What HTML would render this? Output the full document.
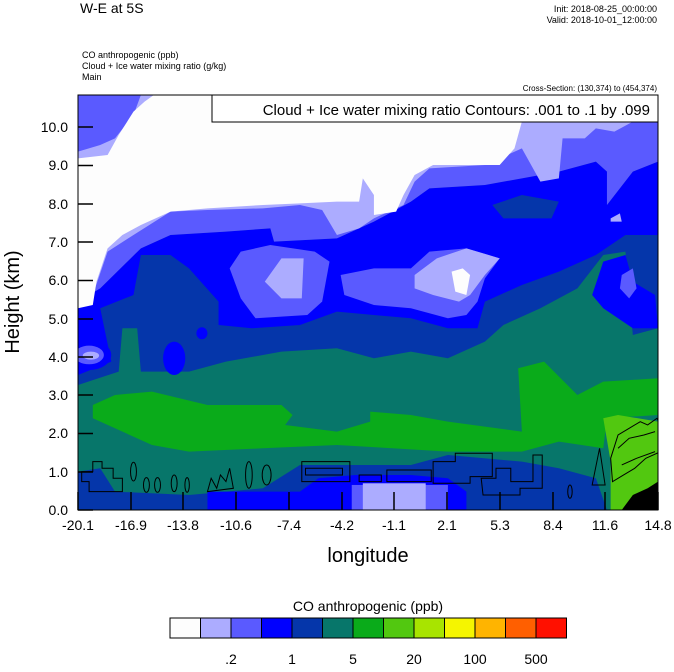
<!DOCTYPE html>
<html><head><meta charset="utf-8"><style>
body{margin:0;background:#fff;width:674px;height:667px;overflow:hidden}
text{font-family:"Liberation Sans",sans-serif}
</style></head><body>
<svg width="674" height="667" viewBox="0 0 674 667" xmlns="http://www.w3.org/2000/svg">
<text x="80" y="13" font-size="14">W-E at 5S</text>
<text x="657" y="12" font-size="9" text-anchor="end">Init: 2018-08-25_00:00:00</text>
<text x="657" y="23" font-size="9" text-anchor="end">Valid: 2018-10-01_12:00:00</text>
<text x="82" y="58" font-size="9">CO anthropogenic   (ppb)</text>
<text x="82" y="69" font-size="9">Cloud + Ice water mixing ratio   (g/kg)</text>
<text x="82" y="80" font-size="9">Main</text>
<text x="657" y="91" font-size="8" text-anchor="end">Cross-Section: (130,374) to (454,374)</text>
<defs><clipPath id="c"><rect x="0" y="0" width="1568" height="1245"/></clipPath></defs>
<g transform="translate(78,95) scale(0.3699,0.3333)" clip-path="url(#c)">
<rect x="0" y="0" width="1568" height="1245" fill="#07766a"/>
<polygon fill="#0536aa" points="0,0 1568,0 1568,700 1500,720 1480,470 1420,480 1350,580 1250,640 1150,690 1100,740 1000,790 900,770 800,790 700,760 550,770 400,800 300,830 170,830 160,700 120,700 110,830 0,870"/>
<polygon fill="#0000ff" points="0,620 60,580 170,460 250,420 400,410 520,400 530,440 700,430 800,380 900,320 950,280 1100,270 1200,250 1300,230 1400,200 1430,230 1430,330 1500,230 1568,200 1568,420 1480,420 1400,480 1300,530 1200,570 1100,620 1080,700 1000,700 900,670 700,650 600,690 470,700 380,690 380,620 300,520 250,480 170,480 150,600 60,640 90,800 0,840"/>
<polygon fill="#0000ff" points="1420,500 1480,480 1500,560 1560,600 1568,700 1500,700 1420,640 1390,600"/>
<ellipse cx="260" cy="790" rx="30" ry="50" fill="#0000ff"/>
<ellipse cx="335" cy="715" rx="15" ry="18" fill="#0000ff"/>
<polygon fill="#0536aa" points="1120,330 1200,300 1300,320 1280,370 1150,370"/>
<polygon fill="#5a5aff" points="0,0 1568,0 1568,200 1500,230 1430,330 1430,230 1400,200 1300,230 1200,250 1100,270 950,280 900,320 800,380 700,430 530,440 520,400 400,410 250,420 170,460 60,580 0,620"/>
<polygon fill="#5a5aff" points="710,540 800,520 900,520 950,470 1050,460 1140,490 1100,550 1080,620 1050,660 1000,670 900,640 800,630 720,600"/>
<polygon fill="#5a5aff" points="410,520 440,470 520,450 640,470 680,500 660,620 620,660 480,670 440,610"/>
<polygon fill="#5a5aff" points="1470,540 1500,520 1510,580 1490,610 1465,580"/>
<ellipse cx="30" cy="780" rx="60" ry="45" fill="#0000ff"/>
<ellipse cx="30" cy="780" rx="40" ry="28" fill="#5a5aff"/>
<ellipse cx="35" cy="782" rx="22" ry="12" fill="#acacff"/>
<polygon fill="#acacff" points="170,0 1568,0 1568,80 1500,80 1450,110 1400,100 1370,130 1310,130 1300,250 1250,260 1200,160 1100,210 950,220 910,260 880,330 800,370 760,400 700,420 660,345 600,330 500,340 350,345 250,350 150,420 80,470 40,600 0,640 0,170 60,150 100,130 150,60"/>
<polygon fill="#fdfdfd" points="205,0 1200,0 1200,80 1180,160 1140,210 960,210 910,240 880,300 860,350 800,360 800,300 770,250 760,320 700,320 600,325 500,330 350,340 250,350 170,390 120,420 80,460 50,560 40,630 0,640 0,190 80,180 110,120 150,50 180,20"/>
<polygon fill="#acacff" points="505,560 550,490 610,490 605,610 550,610"/>
<polygon fill="#acacff" points="910,540 970,490 1050,460 1140,490 1100,540 1060,600 1030,620 960,600 910,580"/>
<polygon fill="#fdfdfd" points="1010,530 1040,520 1060,540 1050,600 1020,590"/>
<polygon fill="#acacff" points="1440,370 1465,355 1470,380 1440,380"/>
<polygon fill="#0aab1a" points="40,930 100,900 200,890 350,930 550,930 580,960 560,990 700,1010 790,980 790,950 900,960 1000,980 1200,1010 1190,820 1260,800 1350,900 1420,860 1568,850 1568,960 1430,970 1420,1060 1300,1040 1200,1070 1000,1070 850,1060 700,1050 500,1060 300,1070 200,1050 100,1000 40,970"/>
<polygon fill="#52c810" points="1420,970 1460,960 1568,980 1568,1245 1440,1245 1440,1100"/>
<polygon fill="#000" points="1470,1245 1500,1200 1540,1180 1568,1160 1568,1245"/>
<polygon fill="#0536aa" points="0,1130 60,1120 100,1190 300,1200 500,1180 600,1110 900,1110 1000,1080 1200,1100 1300,1120 1400,1150 1430,1245 0,1245"/>
<polygon fill="#0000ff" points="350,1190 600,1190 650,1150 750,1140 900,1140 1000,1150 1050,1190 1050,1245 350,1245"/>
<rect x="740" y="1170" width="260" height="75" fill="#5a5aff"/>
<rect x="770" y="1165" width="170" height="80" fill="#acacff"/>
<g fill="none" stroke="#000" stroke-width="1" vector-effect="non-scaling-stroke">
<path vector-effect="non-scaling-stroke" d="M10,1130 h30 v-30 h25 v20 h30 v30 h25 v40 h-90 v-30 h-20z"/>
<ellipse vector-effect="non-scaling-stroke" cx="150" cy="1130" rx="8" ry="28"/>
<ellipse vector-effect="non-scaling-stroke" cx="185" cy="1170" rx="8" ry="22"/>
<ellipse vector-effect="non-scaling-stroke" cx="215" cy="1170" rx="8" ry="22"/>
<ellipse vector-effect="non-scaling-stroke" cx="260" cy="1165" rx="8" ry="25"/>
<ellipse vector-effect="non-scaling-stroke" cx="295" cy="1170" rx="6" ry="22"/>
<path vector-effect="non-scaling-stroke" d="M350,1190 l10,-40 l15,30 l10,-40 l15,20 l10,-40 l10,60 z"/>
<ellipse vector-effect="non-scaling-stroke" cx="462" cy="1140" rx="9" ry="40"/>
<ellipse vector-effect="non-scaling-stroke" cx="510" cy="1140" rx="12" ry="30"/>
<path vector-effect="non-scaling-stroke" d="M605,1100 h130 v60 h-130z M615,1120 h100 v20 h-100z"/>
<path vector-effect="non-scaling-stroke" d="M760,1140 h60 v20 h-60z M835,1125 h120 v35 h-120z"/>
<path vector-effect="non-scaling-stroke" d="M960,1100 h60 v-25 h100 v70 h-60 v20 h-100z"/>
<path vector-effect="non-scaling-stroke" d="M1090,1150 h40 v-30 h40 v40 h60 v-80 h25 v100 h-60 v20 h-100 z"/>
<ellipse vector-effect="non-scaling-stroke" cx="1330" cy="1190" rx="6" ry="20"/>
<path vector-effect="non-scaling-stroke" d="M1390,1170 l20,-110 l15,110 z"/>
<path vector-effect="non-scaling-stroke" d="M1440,1090 l20,-70 l30,-20 l30,-20 l20,10 l25,-20 l10,20 v80 l-40,20 l-30,30 l-30,20 l-30,20 z"/>
<path vector-effect="non-scaling-stroke" d="M1460,1060 l30,-30 l40,-10 l30,-10 M1470,1110 l40,-20 l50,-20"/>
</g>
</g>
<rect x="78" y="95" width="580" height="415" fill="none" stroke="#000" stroke-width="1"/>
<rect x="212" y="95" width="446" height="27" fill="#fff" stroke="#000"/>
<text x="650" y="115" font-size="15" text-anchor="end">Cloud + Ice water mixing ratio Contours: .001 to .1 by .099</text>
<g stroke="#000" stroke-width="1.5">
<path d="M78,510h15M78,472h15M78,433.5h15M78,395h15M78,357h15M78,319h15M78,280.5h15M78,242h15M78,204h15M78,165.5h15M78,127h15"/>
<path d="M78,510v-18M131,510v-18M183,510v-18M236,510v-18M289,510v-18M342,510v-18M394,510v-18M447,510v-18M500,510v-18M553,510v-18M605,510v-18M658,510v-18"/>
</g>
<g font-size="14" text-anchor="end">
<text x="68" y="515">0.0</text><text x="68" y="477">1.0</text><text x="68" y="438">2.0</text><text x="68" y="400">3.0</text><text x="68" y="362">4.0</text><text x="68" y="324">5.0</text><text x="68" y="285">6.0</text><text x="68" y="247">7.0</text><text x="68" y="209">8.0</text><text x="68" y="170">9.0</text><text x="68" y="132">10.0</text>
</g>
<g font-size="14" text-anchor="middle">
<text x="78" y="530">-20.1</text><text x="131" y="530">-16.9</text><text x="183" y="530">-13.8</text><text x="236" y="530">-10.6</text><text x="289" y="530">-7.4</text><text x="342" y="530">-4.2</text><text x="394" y="530">-1.1</text><text x="447" y="530">2.1</text><text x="500" y="530">5.3</text><text x="553" y="530">8.4</text><text x="605" y="530">11.6</text><text x="658" y="530">14.8</text>
</g>
<text x="368" y="562" font-size="20" text-anchor="middle">longitude</text>
<text transform="translate(19,302) rotate(-90)" font-size="20" text-anchor="middle">Height (km)</text>
<text x="368" y="611" font-size="14" text-anchor="middle">CO anthropogenic  (ppb)</text>
<g stroke="#000" stroke-width="1">
<rect x="170" y="618" width="30.5" height="20" fill="#fdfdfd"/>
<rect x="200.5" y="618" width="30.5" height="20" fill="#acacff"/>
<rect x="231" y="618" width="30.5" height="20" fill="#5a5aff"/>
<rect x="261.5" y="618" width="30.5" height="20" fill="#0000ff"/>
<rect x="292" y="618" width="30.5" height="20" fill="#0536aa"/>
<rect x="322.5" y="618" width="30.5" height="20" fill="#07766a"/>
<rect x="353" y="618" width="30.5" height="20" fill="#0aab1a"/>
<rect x="383.5" y="618" width="30.5" height="20" fill="#52c810"/>
<rect x="414" y="618" width="30.5" height="20" fill="#a8e400"/>
<rect x="444.5" y="618" width="30.5" height="20" fill="#f5f500"/>
<rect x="475" y="618" width="30.5" height="20" fill="#ffb400"/>
<rect x="505.5" y="618" width="30.5" height="20" fill="#ff5f00"/>
<rect x="536" y="618" width="30.5" height="20" fill="#ff1000"/>
</g>
<g font-size="14" text-anchor="middle">
<text x="231" y="664">.2</text><text x="292" y="664">1</text><text x="353" y="664">5</text><text x="414" y="664">20</text><text x="475" y="664">100</text><text x="536" y="664">500</text>
</g>
</svg>
</body></html>
